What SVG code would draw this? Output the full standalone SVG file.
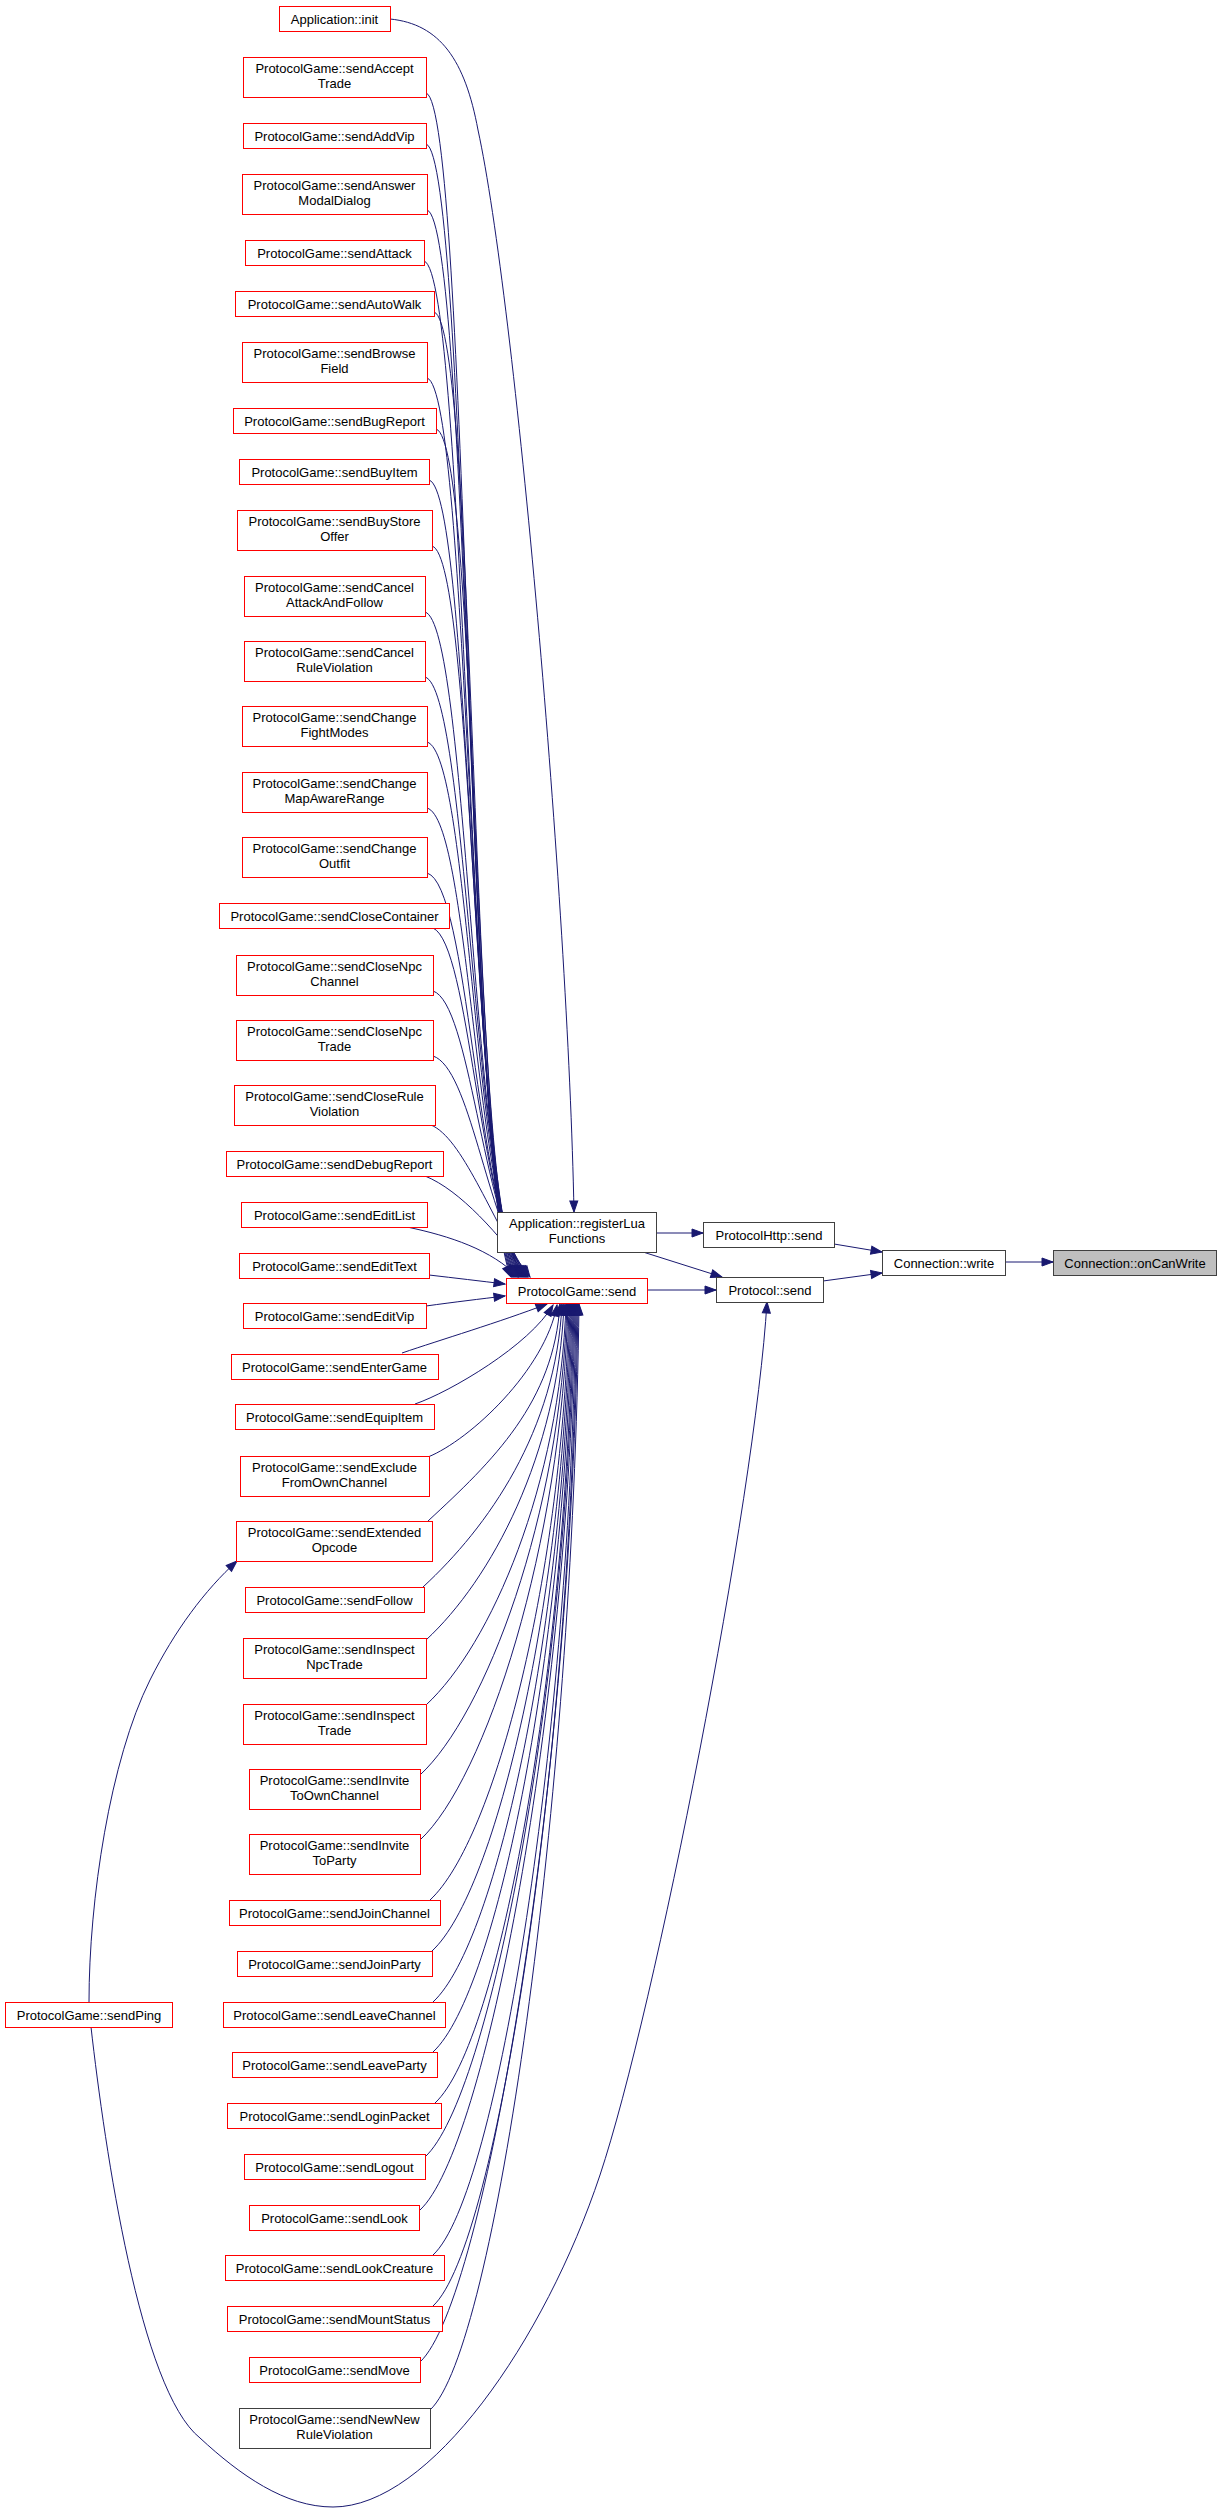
<svg xmlns="http://www.w3.org/2000/svg" width="1221" height="2513" viewBox="0 0 1221 2513">
<style>
.n rect{fill:#ffffff;stroke:#ff0000;stroke-width:1}
.k rect{fill:#ffffff;stroke:#404040;stroke-width:1}
.g rect{fill:#bfbfbf;stroke:#404040;stroke-width:1}
text{font-family:"Liberation Sans",Arial,Helvetica,sans-serif;font-size:13px;text-anchor:middle;fill:#000000}
#edges path{fill:none;stroke:#191970;stroke-width:1;marker-end:url(#ah)}
</style>
<defs>
<marker id="ah" markerUnits="userSpaceOnUse" markerWidth="12" markerHeight="10" refX="11" refY="4" orient="auto" overflow="visible">
<path d="M0,0 L11,4 L0,8 Z" fill="#191970" stroke="#191970" stroke-width="1"/>
</marker>
</defs>
<rect width="1221" height="2513" fill="#ffffff"/>
<g id="edges">
<path d="M390,19 C440,24 465,60 478,130 C515,300 568,900 574,1212"/>
<path d="M426,93 C468,105 468,1185 511,1277"/>
<path d="M426,144 C468,156 468,1185 512,1277"/>
<path d="M427,210 C469,222 469,1185 513,1277"/>
<path d="M424,261 C466,273 469,1185 514,1277"/>
<path d="M434,312 C476,324 470,1185 515,1277"/>
<path d="M427,378 C469,390 470,1185 516,1277"/>
<path d="M436,429 C478,441 471,1185 517,1277"/>
<path d="M429,480 C471,492 471,1185 518,1277"/>
<path d="M432,546 C474,558 472,1185 519,1277"/>
<path d="M425,612 C467,624 472,1185 520,1277"/>
<path d="M425,677 C467,689 473,1185 521,1277"/>
<path d="M427,742 C469,754 473,1190 522,1277"/>
<path d="M427,808 C469,820 474,1195 523,1277"/>
<path d="M427,873 C469,885 475,1200 524,1277"/>
<path d="M433,928 C470,945 478,1205 525,1277"/>
<path d="M433,991 C470,1003 482,1210 526,1277"/>
<path d="M433,1056 C470,1068 486,1215 527,1277"/>
<path d="M431,1125 C462,1138 490,1215 528,1277"/>
<path d="M425,1176 C460,1190 500,1235 530,1277"/>
<path d="M407,1227 C450,1236 492,1250 518,1277"/>
<path d="M429,1275 C455,1278 480,1281 505,1284"/>
<path d="M426,1306 C455,1302 480,1299 505,1296"/>
<path d="M402,1353 C440,1340 500,1322 547,1304"/>
<path d="M415,1404 C450,1392 530,1345 553,1305"/>
<path d="M428,1457 C470,1440 545,1370 557,1305"/>
<path d="M428,1521 C493,1461 554,1402 560,1304"/>
<path d="M423,1587 C488,1527 556,1431 562,1304"/>
<path d="M426,1640 C491,1580 558,1455 564,1304"/>
<path d="M426,1705 C491,1645 560,1484 566,1304"/>
<path d="M420,1775 C485,1715 561,1516 567,1304"/>
<path d="M420,1840 C485,1780 562,1545 568,1304"/>
<path d="M430,1900 C495,1840 563,1572 569,1304"/>
<path d="M432,1951 C497,1891 564,1595 570,1304"/>
<path d="M433,2002 C498,1942 565,1618 571,1304"/>
<path d="M433,2052 C498,1992 566,1641 572,1304"/>
<path d="M435,2103 C500,2043 567,1664 573,1304"/>
<path d="M425,2157 C490,2097 568,1688 574,1304"/>
<path d="M420,2210 C485,2150 569,1712 575,1304"/>
<path d="M433,2255 C498,2195 570,1732 576,1304"/>
<path d="M433,2306 C498,2246 571,1755 577,1304"/>
<path d="M420,2362 C485,2302 572,1780 578,1304"/>
<path d="M430,2410 C495,2350 573,1802 579,1304"/>
<path d="M656,1233 L703,1233"/>
<path d="M643,1252 L722,1277"/>
<path d="M647,1290 L716,1290"/>
<path d="M834,1244 L882,1252"/>
<path d="M823,1281 L882,1273"/>
<path d="M1005,1262 L1053,1262"/>
<path d="M89,2002 C89,1900 110,1760 150,1680 C175,1630 205,1590 237,1561"/>
<path d="M91,2027 C105,2150 140,2390 200,2438 C240,2475 285,2507 333,2507 C430,2507 545,2340 600,2175 C655,2010 755,1500 767,1302"/>
</g>
<g id="n_init" class="n"><rect x="279.5" y="6.5" width="111" height="25"/><text x="334.5" y="24">Application::init</text></g>
<g id="n_sendAcceptTrade" class="n"><rect x="243.5" y="57.5" width="183" height="40"/><text x="334.5" y="73">ProtocolGame::sendAccept</text><text x="334.5" y="88">Trade</text></g>
<g id="n_sendAddVip" class="n"><rect x="243.5" y="123.5" width="183" height="25"/><text x="334.5" y="141">ProtocolGame::sendAddVip</text></g>
<g id="n_sendAnswerModalDialog" class="n"><rect x="242.5" y="174.5" width="185" height="40"/><text x="334.5" y="190">ProtocolGame::sendAnswer</text><text x="334.5" y="205">ModalDialog</text></g>
<g id="n_sendAttack" class="n"><rect x="245.5" y="240.5" width="179" height="25"/><text x="334.5" y="258">ProtocolGame::sendAttack</text></g>
<g id="n_sendAutoWalk" class="n"><rect x="235.5" y="291.5" width="199" height="25"/><text x="334.5" y="309">ProtocolGame::sendAutoWalk</text></g>
<g id="n_sendBrowseField" class="n"><rect x="242.5" y="342.5" width="185" height="40"/><text x="334.5" y="358">ProtocolGame::sendBrowse</text><text x="334.5" y="373">Field</text></g>
<g id="n_sendBugReport" class="n"><rect x="233.5" y="408.5" width="203" height="25"/><text x="334.5" y="426">ProtocolGame::sendBugReport</text></g>
<g id="n_sendBuyItem" class="n"><rect x="239.5" y="459.5" width="190" height="25"/><text x="334.5" y="477">ProtocolGame::sendBuyItem</text></g>
<g id="n_sendBuyStoreOffer" class="n"><rect x="237.5" y="510.5" width="195" height="40"/><text x="334.5" y="526">ProtocolGame::sendBuyStore</text><text x="334.5" y="541">Offer</text></g>
<g id="n_sendCancelAttackAndFollow" class="n"><rect x="244.5" y="576.5" width="181" height="40"/><text x="334.5" y="592">ProtocolGame::sendCancel</text><text x="334.5" y="607">AttackAndFollow</text></g>
<g id="n_sendCancelRuleViolation" class="n"><rect x="244.5" y="641.5" width="181" height="40"/><text x="334.5" y="657">ProtocolGame::sendCancel</text><text x="334.5" y="672">RuleViolation</text></g>
<g id="n_sendChangeFightModes" class="n"><rect x="242.5" y="706.5" width="185" height="40"/><text x="334.5" y="722">ProtocolGame::sendChange</text><text x="334.5" y="737">FightModes</text></g>
<g id="n_sendChangeMapAwareRange" class="n"><rect x="242.5" y="772.5" width="185" height="40"/><text x="334.5" y="788">ProtocolGame::sendChange</text><text x="334.5" y="803">MapAwareRange</text></g>
<g id="n_sendChangeOutfit" class="n"><rect x="242.5" y="837.5" width="185" height="40"/><text x="334.5" y="853">ProtocolGame::sendChange</text><text x="334.5" y="868">Outfit</text></g>
<g id="n_sendCloseContainer" class="n"><rect x="219.5" y="903.5" width="230" height="25"/><text x="334.5" y="921">ProtocolGame::sendCloseContainer</text></g>
<g id="n_sendCloseNpcChannel" class="n"><rect x="236.5" y="955.5" width="197" height="40"/><text x="334.5" y="971">ProtocolGame::sendCloseNpc</text><text x="334.5" y="986">Channel</text></g>
<g id="n_sendCloseNpcTrade" class="n"><rect x="236.5" y="1020.5" width="197" height="40"/><text x="334.5" y="1036">ProtocolGame::sendCloseNpc</text><text x="334.5" y="1051">Trade</text></g>
<g id="n_sendCloseRuleViolation" class="n"><rect x="234.5" y="1085.5" width="201" height="40"/><text x="334.5" y="1101">ProtocolGame::sendCloseRule</text><text x="334.5" y="1116">Violation</text></g>
<g id="n_sendDebugReport" class="n"><rect x="226.5" y="1151.5" width="217" height="25"/><text x="334.5" y="1169">ProtocolGame::sendDebugReport</text></g>
<g id="n_sendEditList" class="n"><rect x="241.5" y="1202.5" width="186" height="25"/><text x="334.5" y="1220">ProtocolGame::sendEditList</text></g>
<g id="n_sendEditText" class="n"><rect x="239.5" y="1253.5" width="190" height="25"/><text x="334.5" y="1271">ProtocolGame::sendEditText</text></g>
<g id="n_sendEditVip" class="n"><rect x="243.5" y="1303.5" width="183" height="25"/><text x="334.5" y="1321">ProtocolGame::sendEditVip</text></g>
<g id="n_sendEnterGame" class="n"><rect x="231.5" y="1354.5" width="207" height="25"/><text x="334.5" y="1372">ProtocolGame::sendEnterGame</text></g>
<g id="n_sendEquipItem" class="n"><rect x="235.5" y="1404.5" width="199" height="25"/><text x="334.5" y="1422">ProtocolGame::sendEquipItem</text></g>
<g id="n_sendExcludeFromOwnChannel" class="n"><rect x="240.5" y="1456.5" width="189" height="40"/><text x="334.5" y="1472">ProtocolGame::sendExclude</text><text x="334.5" y="1487">FromOwnChannel</text></g>
<g id="n_sendExtendedOpcode" class="n"><rect x="236.5" y="1521.5" width="196" height="40"/><text x="334.5" y="1537">ProtocolGame::sendExtended</text><text x="334.5" y="1552">Opcode</text></g>
<g id="n_sendFollow" class="n"><rect x="245.5" y="1587.5" width="179" height="25"/><text x="334.5" y="1605">ProtocolGame::sendFollow</text></g>
<g id="n_sendInspectNpcTrade" class="n"><rect x="243.5" y="1638.5" width="183" height="40"/><text x="334.5" y="1654">ProtocolGame::sendInspect</text><text x="334.5" y="1669">NpcTrade</text></g>
<g id="n_sendInspectTrade" class="n"><rect x="243.5" y="1704.5" width="183" height="40"/><text x="334.5" y="1720">ProtocolGame::sendInspect</text><text x="334.5" y="1735">Trade</text></g>
<g id="n_sendInviteToOwnChannel" class="n"><rect x="249.5" y="1769.5" width="171" height="40"/><text x="334.5" y="1785">ProtocolGame::sendInvite</text><text x="334.5" y="1800">ToOwnChannel</text></g>
<g id="n_sendInviteToParty" class="n"><rect x="249.5" y="1834.5" width="171" height="40"/><text x="334.5" y="1850">ProtocolGame::sendInvite</text><text x="334.5" y="1865">ToParty</text></g>
<g id="n_sendJoinChannel" class="n"><rect x="229.5" y="1900.5" width="211" height="25"/><text x="334.5" y="1918">ProtocolGame::sendJoinChannel</text></g>
<g id="n_sendJoinParty" class="n"><rect x="237.5" y="1951.5" width="195" height="25"/><text x="334.5" y="1969">ProtocolGame::sendJoinParty</text></g>
<g id="n_sendLeaveChannel" class="n"><rect x="223.5" y="2002.5" width="222" height="25"/><text x="334.5" y="2020">ProtocolGame::sendLeaveChannel</text></g>
<g id="n_sendLeaveParty" class="n"><rect x="232.5" y="2052.5" width="205" height="25"/><text x="334.5" y="2070">ProtocolGame::sendLeaveParty</text></g>
<g id="n_sendLoginPacket" class="n"><rect x="227.5" y="2103.5" width="214" height="25"/><text x="334.5" y="2121">ProtocolGame::sendLoginPacket</text></g>
<g id="n_sendLogout" class="n"><rect x="244.5" y="2154.5" width="181" height="25"/><text x="334.5" y="2172">ProtocolGame::sendLogout</text></g>
<g id="n_sendLook" class="n"><rect x="249.5" y="2205.5" width="170" height="25"/><text x="334.5" y="2223">ProtocolGame::sendLook</text></g>
<g id="n_sendLookCreature" class="n"><rect x="225.5" y="2255.5" width="219" height="25"/><text x="334.5" y="2273">ProtocolGame::sendLookCreature</text></g>
<g id="n_sendMountStatus" class="n"><rect x="227.5" y="2306.5" width="215" height="25"/><text x="334.5" y="2324">ProtocolGame::sendMountStatus</text></g>
<g id="n_sendMove" class="n"><rect x="249.5" y="2357.5" width="171" height="25"/><text x="334.5" y="2375">ProtocolGame::sendMove</text></g>
<g id="n_sendNewNewRuleViolation" class="k"><rect x="239.5" y="2408.5" width="191" height="40"/><text x="334.5" y="2424">ProtocolGame::sendNewNew</text><text x="334.5" y="2439">RuleViolation</text></g>
<g id="n_sendPing" class="n"><rect x="5.5" y="2002.5" width="167" height="25"/><text x="89" y="2020">ProtocolGame::sendPing</text></g>
<g id="n_registerLuaFunctions" class="k"><rect x="497.5" y="1212.5" width="159" height="40"/><text x="577" y="1228">Application::registerLua</text><text x="577" y="1243">Functions</text></g>
<g id="n_ProtocolHttp_send" class="k"><rect x="703.5" y="1222.5" width="131" height="25"/><text x="769" y="1240">ProtocolHttp::send</text></g>
<g id="n_ProtocolGame_send" class="n"><rect x="506.5" y="1278.5" width="141" height="25"/><text x="577" y="1296">ProtocolGame::send</text></g>
<g id="n_Protocol_send" class="k"><rect x="716.5" y="1277.5" width="107" height="25"/><text x="770" y="1295">Protocol::send</text></g>
<g id="n_Connection_write" class="k"><rect x="882.5" y="1250.5" width="123" height="25"/><text x="944" y="1268">Connection::write</text></g>
<g id="n_Connection_onCanWrite" class="g"><rect x="1053.5" y="1250.5" width="163" height="25"/><text x="1135" y="1268">Connection::onCanWrite</text></g>
</svg>
